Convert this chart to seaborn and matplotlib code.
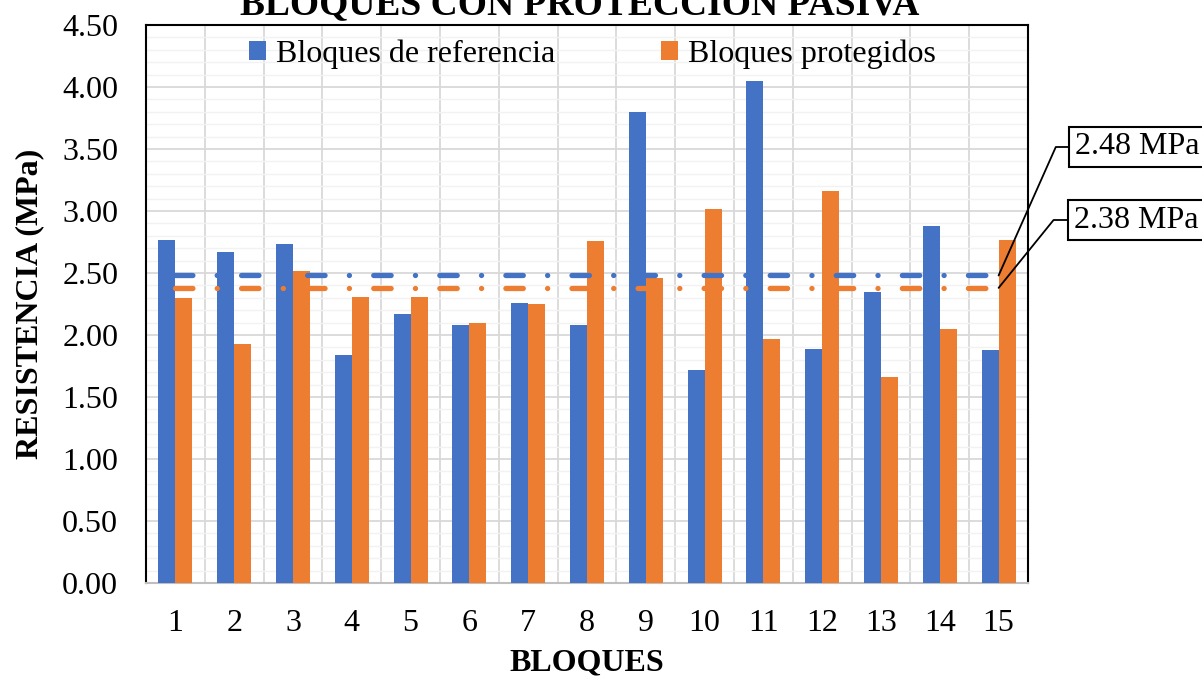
import pandas as pd
import seaborn as sns
import matplotlib.pyplot as plt
from matplotlib.ticker import MultipleLocator

bloques = [str(i) for i in range(1, 16)]
referencia = [2.77, 2.67, 2.73, 1.84, 2.17, 2.08, 2.26, 2.08, 3.80, 1.72, 4.05, 1.89, 2.35, 2.88, 1.88]
protegidos = [2.30, 1.93, 2.52, 2.31, 2.31, 2.10, 2.25, 2.76, 2.46, 3.02, 1.97, 3.16, 1.66, 2.05, 2.77]
series = ['Bloques de referencia', 'Bloques protegidos']
promedios = [2.48, 2.38]
etiquetas = ['2.48 MPa', '2.38 MPa']
colores = {'Bloques de referencia': '#4472C4', 'Bloques protegidos': '#ED7D31'}

df = pd.DataFrame({
    'bloque': bloques * 2,
    'resistencia': referencia + protegidos,
    'serie': [series[0]] * len(bloques) + [series[1]] * len(bloques),
})

sns.set_style('white')
plt.rcParams['font.family'] = ['Liberation Serif', 'DejaVu Serif']
plt.rcParams['text.color'] = 'black'
plt.rcParams['axes.labelcolor'] = 'black'
plt.rcParams['xtick.color'] = 'black'
plt.rcParams['ytick.color'] = 'black'

fig = plt.figure(figsize=(12.02, 6.77), dpi=100)
ax = fig.add_axes([146 / 1202, 1 - 583 / 677, (1028 - 146) / 1202, (583 - 25) / 677])

sns.barplot(data=df, x='bloque', y='resistencia', hue='serie', palette=colores,
            saturation=1, width=0.58, linewidth=0, ax=ax, zorder=3)

# lineas de promedio
for val, serie in zip(promedios, series):
    ax.plot([0, len(bloques) - 1], [val, val], color=colores[serie], lw=3.8,
            linestyle=(0, (3.3, 4.6, 0.02, 4.6)), dash_capstyle='round', zorder=4)

ax.set_ylim(0, 4.5)
ax.set_xlim(-0.5, len(bloques) - 0.5)
ax.yaxis.set_major_locator(MultipleLocator(0.5))
ax.yaxis.set_minor_locator(MultipleLocator(0.1))
ax.yaxis.set_major_formatter(lambda v, p: f'{v:.2f}')
ax.set_xticks([i + 0.5 for i in range(len(bloques) - 1)], minor=True)
ax.grid(which='major', axis='y', color='#d9d9d9', lw=1.3, zorder=0)
ax.grid(which='minor', axis='y', color='#f2f2f2', lw=1.0, zorder=0)
ax.grid(which='minor', axis='x', color='#d9d9d9', lw=1.3, zorder=0)
ax.set_axisbelow(True)
ax.tick_params(axis='both', which='both', length=0, labelsize=23)
ax.tick_params(axis='y', pad=20)
ax.tick_params(axis='x', pad=19)

for s in ['left', 'top', 'right']:
    ax.spines[s].set_color('black')
    ax.spines[s].set_linewidth(1.5)
ax.spines['bottom'].set_color('#bfbfbf')
ax.spines['bottom'].set_linewidth(1.5)

ax.set_xlabel('BLOQUES', fontsize=23, fontweight='bold', labelpad=7)
ax.set_ylabel('RESISTENCIA (MPa)', fontsize=23, fontweight='bold', labelpad=13)

fig.text(580 / 1202, 1 - 14 / 677, 'BLOQUES CON PROTECCIÓN PASIVA', ha='center',
         va='baseline', fontsize=27, fontweight='bold')

leg = ax.legend(loc='upper center', bbox_to_anchor=(0.506, 1.0), ncol=2, frameon=False,
                fontsize=23, handlelength=0.55, handleheight=0.55, handletextpad=0.3,
                columnspacing=3.3, borderaxespad=0.05)

# etiquetas de promedio
posiciones = [(1068, 677 - 147, 66), (1067, 677 - 220, 51)]
for val, txt, (px, py, ang) in zip(promedios, etiquetas, posiciones):
    ax.annotate(txt, xy=(len(bloques) - 1, val), xycoords='data',
                xytext=(px + 7, py), textcoords='figure pixels', ha='left', va='center',
                fontsize=23, annotation_clip=False,
                bbox=dict(boxstyle='square,pad=0.18', fc='white', ec='black', lw=1.5),
                arrowprops=dict(arrowstyle='-', color='black', lw=1.3, shrinkA=0, shrinkB=0,
                                connectionstyle=f'angle,angleA=180,angleB={ang},rad=0'))

fig.savefig('out.png', dpi=100)
